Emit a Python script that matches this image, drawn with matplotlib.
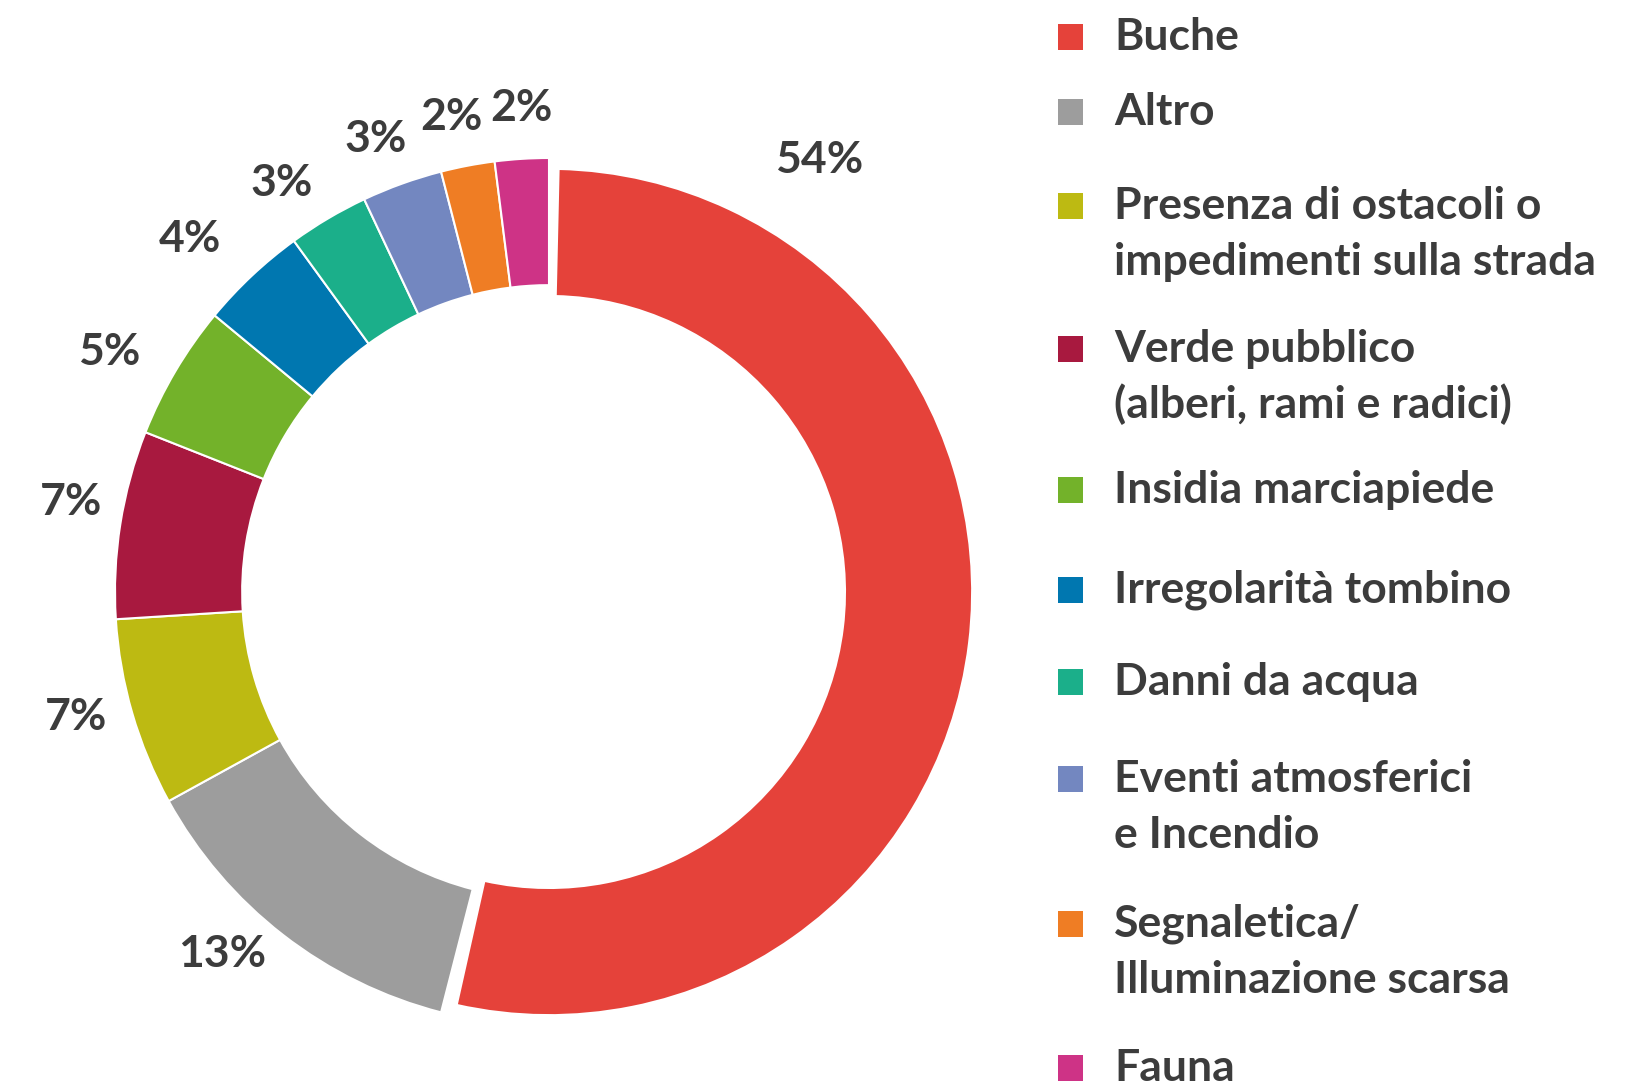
import matplotlib.pyplot as plt
from matplotlib.patches import Rectangle
import numpy as np

categorie = ['Buche', 'Altro', 'Presenza di ostacoli o\nimpedimenti sulla strada',
             'Verde pubblico\n(alberi, rami e radici)', 'Insidia marciapiede',
             'Irregolarità tombino', 'Danni da acqua', 'Eventi atmosferici\ne Incendio',
             'Segnaletica/\nIlluminazione scarsa', 'Fauna']
valori = [54, 13, 7, 7, 5, 4, 3, 3, 2, 2]
colori = ['#E5423A', '#9D9D9D', '#BDBA12', '#A8193F', '#73B22A',
          '#0077B0', '#1BAF8A', '#7387C0', '#EF7D24', '#CE3386']

W, H = 1638, 1081
cx, cy, R = 549, 592, 434   # centro e raggio in pixel
testo = '#3C3C3C'

# posizione delle etichette (angolo in gradi, distanza in raggi)
ang_etich = [58, -132.1, -165.2, 169.3, 151.4, 135.5, 123.1, 110.9, 101.6, 93.2]
dist_etich = [1.175, 1.123, 1.127, 1.121, 1.153, 1.16, 1.126, 1.117, 1.117, 1.118]

fig = plt.figure(figsize=(W / 100, H / 100), dpi=100)
ax = fig.add_axes([0, 0, 1, 1])

wedges, texts = ax.pie(valori, colors=colori, startangle=90, counterclock=False,
                       radius=1,
                       wedgeprops=dict(width=0.293, edgecolor='white', linewidth=1.5),
                       labels=[f'{v}%' for v in valori],
                       textprops=dict(fontsize=32, fontweight='bold', color=testo,
                                      family='Lato'))
for t, a, d in zip(texts, ang_etich, dist_etich):
    a = np.deg2rad(a)
    t.set_position((d * np.cos(a), d * np.sin(a)))
    t.set_ha('center')
    t.set_va('center')

# la fetta "Buche" è leggermente più piccola e staccata dalle altre
w0 = wedges[0]
w0.set_radius(0.975)
w0.set_theta1(w0.theta1 + 1.8)
w0.set_theta2(w0.theta2 - 1.3)

ax.set_xlim(-cx / R, (W - cx) / R)
ax.set_ylim(-(H - cy) / R, cy / R)
ax.set_aspect('equal')
ax.axis('off')

# legenda manuale
righe_y = [37, 112, 206, 349, 490, 590, 682, 779, 924, 1068]
for nome, col, y in zip(categorie, colori, righe_y):
    fig.patches.append(Rectangle((1058 / W, 1 - (y + 13) / H), 25 / W, 26 / H,
                                 transform=fig.transFigure, facecolor=col,
                                 edgecolor='none'))
    for i, riga in enumerate(nome.split('\n')):
        fig.text(1114 / W, 1 - (y + 13 + i * 56) / H, riga, fontsize=32,
                 fontweight='bold', color=testo, family='Lato', va='baseline')

fig.savefig('out.png', dpi=100, facecolor='white')
